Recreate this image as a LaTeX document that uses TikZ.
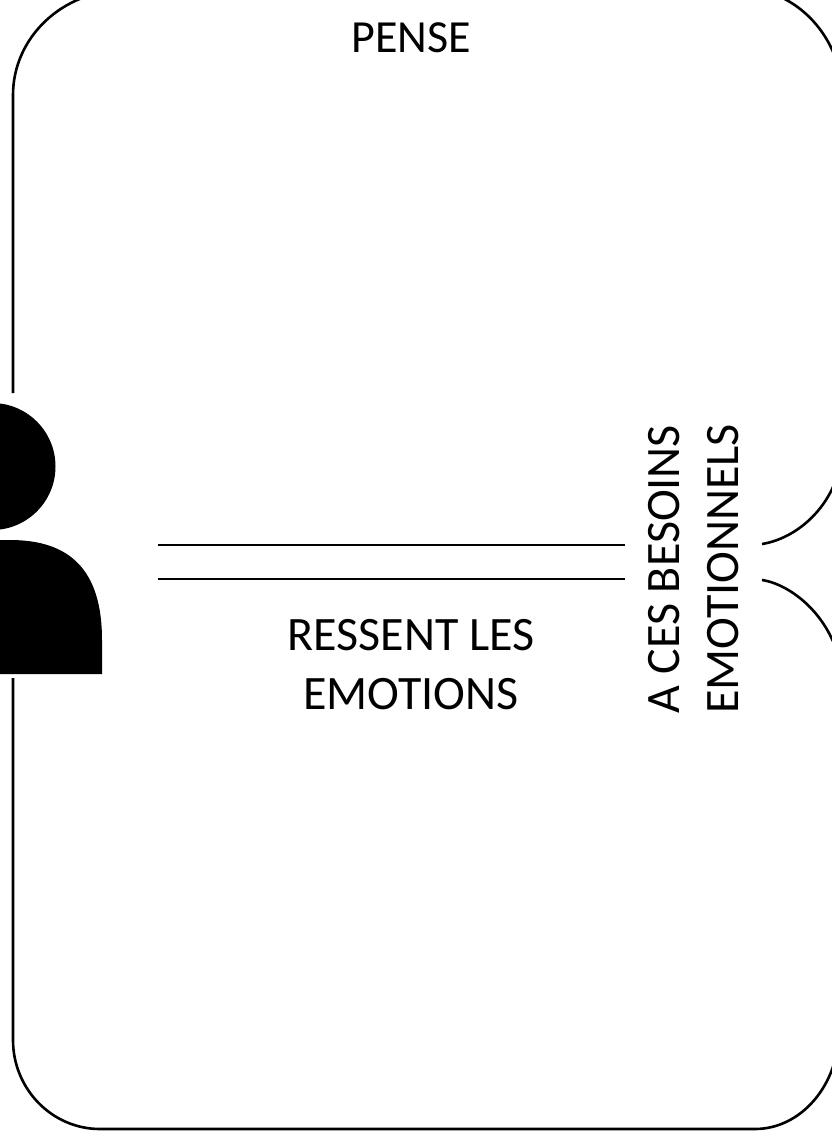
\documentclass[tikz,border=0pt]{standalone}
\usepackage{fontspec}
\setmainfont{Carlito}
\usepackage{tikz}
\tikzset{
  frameline/.style={line width=2.6pt, black},
  label/.style={font=\fontsize{48}{59}\selectfont, text=black, align=center, inner sep=0pt},
}
\begin{document}
\begin{tikzpicture}[x=1pt,y=-1pt]
  \useasboundingbox (0,0) rectangle (832,1132);
  \clip (0,0) rectangle (832,1132);
  % frame, broken at the person and at the right label
  \draw[frameline] (13,393) -- (13,95) .. controls (13,37) and (63,-10) .. (125,-10) -- (740,-12) .. controls (797,-12) and (843,38) .. (843,100) -- (843,440) .. controls (843,500) and (800,538) .. (762,544);
  \draw[frameline] (762,580) .. controls (795,585) and (843,625) .. (843,690) -- (839,1030) .. controls (839,1085) and (801,1129) .. (755,1129) -- (100,1129) .. controls (52,1129) and (13,1089) .. (13,1040) -- (13,678);
  % person
  \fill[black] (-8,466.5) circle [radius=63.5];
  \fill[black] (-5,540) -- (10,540) .. controls (70,540) and (102,570) .. (102,640) -- (102,674) -- (-5,674) -- cycle;
  % band
  \coordinate (bandtopl) at (158,545);
  \coordinate (bandtopr) at (625,545);
  \coordinate (bandbotl) at (158,579);
  \coordinate (bandbotr) at (625,579);
  \draw[frameline] (bandtopl) -- (bandtopr);
  \draw[frameline] (bandbotl) -- (bandbotr);
  % labels
  \node[label, font=\fontsize{46}{59}\selectfont] (pense) at (411,38) {PENSE};
  \node[label] (ressent) at (411,665) {RESSENT LES\\EMOTIONS};
  \node[label, rotate=90] (besoins) at (694,569) {A CES BESOINS\\EMOTIONNELS};
\end{tikzpicture}
\end{document}
